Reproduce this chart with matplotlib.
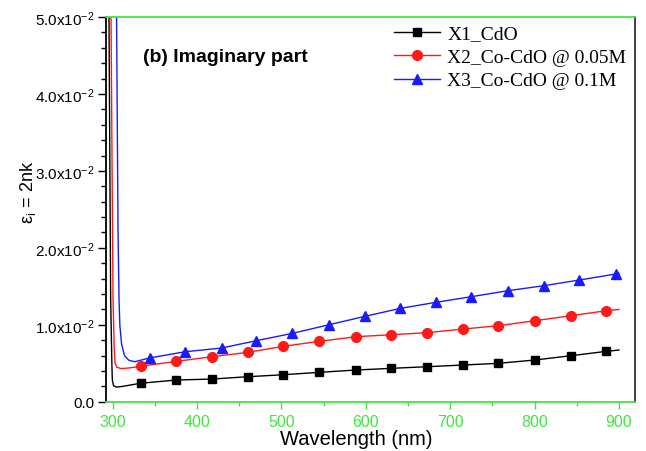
import matplotlib
matplotlib.use("Agg")
import matplotlib.pyplot as plt
from matplotlib.ticker import MultipleLocator, FixedLocator

plt.rcParams['font.family'] = ['Liberation Sans', 'DejaVu Sans']
plt.rcParams['mathtext.default'] = 'regular'

# ---- data ----
x1_wl = [295.3, 295.6, 297.6, 299.0, 299.6, 301.0, 304.4, 312.0,
         333, 375, 418, 460, 502, 545, 588, 630, 672, 715, 757, 800, 843, 885, 900]
x1_val = [0.060, 0.050, 0.0133, 0.0050, 0.0028, 0.0021, 0.0019, 0.0020,
          0.00240, 0.00282, 0.00295, 0.00325, 0.00351, 0.00382, 0.00412, 0.00434,
          0.00455, 0.00477, 0.00499, 0.00542, 0.00598, 0.00655, 0.00672]
x1_marks = list(range(8, 22))

x2_wl = [297.7, 298.0, 300.4, 301.8, 302.8, 305.0, 310.0, 320.0,
         333, 375, 418, 460, 502, 545, 588, 630, 672, 715, 757, 800, 843, 885, 900]
x2_val = [0.060, 0.050, 0.0133, 0.0070, 0.0050, 0.0045, 0.0043, 0.0044,
          0.00460, 0.00525, 0.00585, 0.00642, 0.00720, 0.00785, 0.00845, 0.00871,
          0.00897, 0.00945, 0.00988, 0.01053, 0.01118, 0.01183, 0.01200]
x2_marks = list(range(8, 22))

x3_wl = [304.0, 304.6, 306.3, 307.5, 308.5, 310.5, 314.0, 319.0, 326.0,
         344, 386, 429, 470, 513, 556, 599, 641, 683, 725, 768, 811, 853, 896, 900]
x3_val = [0.060, 0.050, 0.0224, 0.0133, 0.0099, 0.0075, 0.0060, 0.0054, 0.0052,
          0.00570, 0.00650, 0.00698, 0.00793, 0.00889, 0.01000, 0.01110, 0.01214,
          0.01292, 0.01365, 0.01443, 0.01508, 0.01582, 0.01660, 0.01668]
x3_marks = list(range(9, 23))

labels = ['X1_CdO', 'X2_Co-CdO @ 0.05M', 'X3_Co-CdO @ 0.1M']
yticks = [0.0, 0.01, 0.02, 0.03, 0.04, 0.05]
ytick_labels = ['0.0', '1.0x10$^{-2}$', '2.0x10$^{-2}$', '3.0x10$^{-2}$',
                '4.0x10$^{-2}$', '5.0x10$^{-2}$']
xticks = [300, 400, 500, 600, 700, 800, 900]

GREEN = '#3fe63f'

fig = plt.figure(figsize=(6.46, 4.52), dpi=100)
ax = fig.add_axes([0.164, 0.109, 0.819, 0.851])

ax.plot(x1_wl, x1_val, color='black', lw=1.0, marker='s', ms=6,
        markevery=x1_marks, label=labels[0])
ax.plot(x2_wl, x2_val, color='#ff1a1a', lw=1.0, marker='o', ms=7,
        markevery=x2_marks, label=labels[1])
ax.plot(x3_wl, x3_val, color='#1a1aff', lw=1.0, marker='^', ms=7.5,
        markevery=x3_marks, label=labels[2])

ax.set_xlim(292, 919)
ax.set_ylim(0, 0.05)

ax.xaxis.set_major_locator(FixedLocator(xticks))
ax.xaxis.set_minor_locator(MultipleLocator(50))
ax.set_yticks(yticks)
ax.set_yticklabels(ytick_labels)
ax.yaxis.set_minor_locator(MultipleLocator(0.002))

ax.tick_params(axis='x', which='major', direction='out', length=5, width=1,
               color=GREEN, labelcolor=GREEN, labelsize=11.5, pad=4)
ax.tick_params(axis='x', which='minor', direction='out', length=3, width=1, color=GREEN)
ax.tick_params(axis='y', which='major', direction='out', length=6, width=1,
               labelsize=11, pad=2)
ax.tick_params(axis='y', which='minor', direction='out', length=3.5, width=1)

ax.spines['top'].set_color(GREEN)
ax.spines['bottom'].set_color(GREEN)
ax.spines['left'].set_color('black')
ax.spines['right'].set_color('#333333')
for s in ax.spines.values():
    s.set_linewidth(1.3)

ax.set_xlabel('Wavelength (nm)', fontsize=14.5)
ax.xaxis.set_label_coords(0.474, -0.071)
fig.text(28 / 646, 1 - 192 / 452, 'ε$_i$ = 2nk', rotation=90, fontsize=13,
         ha='center', va='center')

fig.text(143 / 646, 1 - 57 / 452, '(b) Imaginary part', fontsize=14,
         fontweight='bold', va='center', ha='left')

leg = ax.legend(loc='upper left', bbox_to_anchor=(0.518, 1.015), frameon=False,
                prop={'family': 'Liberation Serif', 'size': 14},
                handlelength=2.4, handletextpad=0.35, labelspacing=0.3,
                borderaxespad=0.3)

fig.savefig('out.png', dpi=100)
